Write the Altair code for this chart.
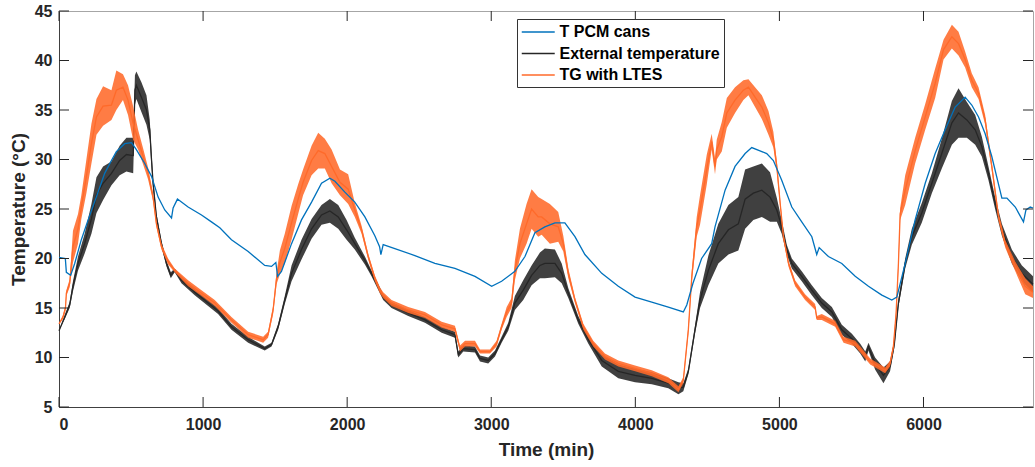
import altair as alt
import pandas as pd

# ---------------- data ----------------
series_names = ["T PCM cans", "External temperature", "TG with LTES"]
series_colors = ["#0072BD", "#262626", "#FF6A2A"]

pcm_time = [0, 44, 51, 81, 109, 155, 202, 259, 317, 364, 398, 456, 503, 537, 595, 642, 688, 734, 781, 792,
            822, 896, 989, 1058, 1116, 1197, 1313, 1428, 1475, 1505, 1517, 1544, 1614, 1683, 1753, 1822, 1880,
            1915, 1984, 2053, 2123, 2192, 2225, 2234, 2250, 2331, 2470, 2609, 2748, 2887, 3003, 3072, 3164,
            3234, 3303, 3372, 3442, 3511, 3581, 3650, 3767, 3882, 3998, 4114, 4229, 4333, 4357, 4400, 4460,
            4530, 4553, 4623, 4692, 4762, 4808, 4878, 4912, 4958, 5016, 5086, 5155, 5225, 5259, 5276, 5340,
            5433, 5526, 5618, 5711, 5780, 5815, 5873, 5942, 6012, 6081, 6150, 6220, 6289, 6335, 6382, 6428,
            6474, 6544, 6579, 6637, 6694, 6711, 6741, 6760]
pcm_temp = [20.1, 20.0, 18.6, 18.3, 19.5, 21.9, 23.9, 26.2, 28.6, 29.9, 30.8, 31.6, 31.7, 31.0, 29.6, 28.3,
            26.2, 24.9, 24.1, 25.1, 26.0, 25.2, 24.4, 23.7, 23.1, 21.9, 20.7, 19.3, 19.2, 19.6, 18.2, 18.7,
            21.5, 23.9, 25.7, 27.6, 28.1, 27.8, 26.7, 25.7, 24.2, 22.3, 21.2, 20.4, 21.4, 21.0, 20.3, 19.5,
            19.0, 18.2, 17.2, 17.7, 18.7, 20.2, 22.6, 23.2, 23.6, 23.6, 22.2, 20.4, 18.5, 17.2, 16.1, 15.6,
            15.1, 14.6, 15.3, 17.5, 20.0, 21.5, 23.2, 26.9, 29.3, 30.6, 31.2, 30.8, 30.6, 29.9, 27.9, 25.2,
            23.7, 22.2, 20.4, 21.1, 20.2, 19.5, 18.2, 17.2, 16.3, 15.8, 16.1, 19.5, 23.9, 27.6, 30.6, 33.0,
            35.3, 36.3, 35.5, 34.3, 32.6, 30.3, 26.1, 26.1, 25.2, 23.7, 24.9, 25.2, 25.1]

ext_time = [0, 40, 74, 97, 132, 178, 225, 260, 306, 364, 421, 468, 515, 527, 537, 572, 607, 630, 642, 653,
            676, 711, 746, 776, 803, 850, 942, 1035, 1104, 1197, 1313, 1428, 1475, 1521, 1567, 1614, 1683,
            1753, 1822, 1880, 1938, 1996, 2053, 2123, 2169, 2210, 2250, 2308, 2424, 2540, 2656, 2748, 2771,
            2806, 2887, 2922, 2979, 3026, 3072, 3118, 3164, 3222, 3280, 3338, 3372, 3442, 3489, 3535, 3604,
            3674, 3767, 3882, 3998, 4114, 4229, 4299, 4333, 4368, 4414, 4449, 4507, 4576, 4646, 4715, 4762,
            4819, 4878, 4935, 4982, 5016, 5051, 5086, 5155, 5225, 5294, 5364, 5433, 5503, 5561, 5596, 5618,
            5664, 5722, 5768, 5798, 5826, 5873, 5919, 5988, 6058, 6127, 6197, 6243, 6301, 6359, 6405, 6451,
            6497, 6544, 6613, 6683, 6760]
ext_temp = [12.7, 14.1, 15.3, 17.2, 19.5, 21.5, 24.0, 26.4, 27.6, 28.6, 29.9, 30.5, 30.4, 37.0, 37.5, 36.3,
            35.0, 33.0, 30.0, 27.6, 24.2, 21.5, 19.5, 18.3, 18.8, 17.8, 16.6, 15.5, 14.7, 13.1, 11.8, 10.9,
            11.3, 13.1, 15.8, 18.5, 20.9, 23.0, 24.4, 24.8, 24.2, 22.9, 21.5, 19.8, 18.5, 17.3, 16.1, 15.3,
            14.5, 13.8, 12.8, 12.3, 10.3, 10.9, 10.8, 9.9, 9.7, 10.4, 11.8, 13.1, 15.5, 16.8, 18.3, 19.3,
            19.5, 19.5, 18.5, 16.5, 13.8, 11.8, 9.7, 8.6, 8.2, 7.9, 7.4, 6.9, 7.0, 8.6, 12.8, 15.8, 18.8,
            21.5, 22.9, 23.5, 26.0, 26.6, 26.9, 26.2, 24.9, 23.2, 20.9, 19.5, 18.2, 16.8, 15.5, 14.6, 12.8,
            11.9, 10.9, 10.1, 11.1, 9.4, 8.2, 9.1, 11.4, 15.5, 19.5, 22.2, 24.6, 27.6, 30.6, 33.7, 34.7,
            34.0, 33.0, 31.3, 28.6, 25.6, 22.9, 20.2, 18.5, 17.4]
ext_noise = [0.0, 0.2, 0.3, 0.5, 0.7, 1.0, 1.5, 1.8, 1.7, 1.2, 1.5, 1.7, 1.8, 1.5, 1.4, 1.5, 1.5, 1.0, 0.8,
             0.5, 0.4, 0.3, 0.3, 0.3, 0.2, 0.3, 0.3, 0.3, 0.3, 0.3, 0.3, 0.2, 0.2, 0.3, 0.4, 0.8, 1.0, 1.0,
             1.0, 1.2, 1.2, 1.0, 0.6, 0.4, 0.3, 0.3, 0.3, 0.3, 0.3, 0.3, 0.3, 0.3, 0.3, 0.3, 0.3, 0.3, 0.3,
             0.3, 0.3, 0.4, 0.7, 1.0, 1.0, 1.3, 1.5, 1.4, 1.0, 0.5, 0.4, 0.4, 0.6, 0.7, 0.7, 0.6, 0.5, 0.6,
             0.4, 0.3, 0.4, 0.8, 1.5, 2.0, 2.5, 2.7, 3.0, 2.7, 2.7, 2.5, 1.2, 0.7, 0.5, 0.5, 0.5, 0.5, 0.5,
             0.5, 0.5, 0.5, 0.5, 0.5, 0.4, 0.6, 0.8, 0.5, 0.4, 0.4, 0.5, 0.8, 1.0, 1.0, 1.5, 2.2, 2.5, 1.8,
             1.5, 1.0, 0.7, 0.6, 0.6, 0.7, 0.8, 0.8]

tg_time = [0, 28, 45, 51, 74, 97, 132, 155, 190, 225, 260, 306, 364, 398, 444, 479, 514, 549, 584, 618, 653,
           676, 711, 757, 803, 896, 989, 1081, 1197, 1313, 1417, 1451, 1486, 1510, 1533, 1567, 1614, 1660,
           1694, 1753, 1799, 1845, 1892, 1950, 2007, 2053, 2100, 2146, 2192, 2227, 2250, 2308, 2424, 2540,
           2656, 2748, 2783, 2818, 2887, 2922, 2991, 3037, 3072, 3107, 3141, 3164, 3199, 3245, 3280, 3326,
           3350, 3407, 3465, 3500, 3535, 3581, 3639, 3708, 3789, 3882, 3998, 4114, 4229, 4299, 4333, 4368,
           4392, 4426, 4449, 4496, 4530, 4553, 4565, 4600, 4635, 4692, 4750, 4785, 4831, 4878, 4924, 4958,
           4982, 5005, 5028, 5063, 5109, 5178, 5248, 5259, 5294, 5387, 5445, 5526, 5561, 5630, 5734, 5768,
           5791, 5810, 5826, 5838, 5873, 5942, 6012, 6081, 6139, 6197, 6243, 6289, 6335, 6382, 6428, 6474,
           6521, 6567, 6637, 6706, 6760]
tg_temp = [13.4, 14.1, 15.0, 16.5, 17.5, 21.2, 23.0, 25.2, 28.3, 31.6, 34.3, 35.4, 35.5, 37.0, 37.3, 36.0,
           33.7, 32.0, 30.3, 28.6, 26.2, 23.5, 21.2, 19.7, 18.8, 17.5, 16.5, 15.5, 13.8, 12.3, 11.8, 12.3,
           14.8, 18.0, 19.6, 21.0, 23.6, 26.0, 27.7, 29.9, 30.9, 30.6, 29.3, 27.7, 27.0, 24.9, 22.9, 20.2,
           18.0, 16.8, 16.3, 15.5, 14.8, 14.3, 13.3, 12.9, 10.9, 11.4, 11.4, 10.6, 10.6, 11.4, 13.1, 14.6,
           15.5, 18.8, 21.5, 23.5, 25.0, 24.2, 24.2, 23.5, 23.2, 21.5, 18.5, 15.8, 13.1, 11.4, 10.1, 9.4,
           8.9, 8.4, 7.7, 6.8, 7.7, 12.8, 18.2, 23.2, 24.9, 29.0, 31.8, 29.3, 31.0, 32.3, 34.7, 36.0, 37.0,
           37.3, 36.3, 35.3, 33.7, 32.0, 29.3, 25.6, 22.2, 19.5, 17.5, 16.1, 15.1, 14.0, 14.1, 13.4, 11.8,
           11.4, 10.8, 9.6, 8.7, 9.4, 11.1, 14.5, 19.5, 24.5, 26.9, 30.9, 34.3, 37.7, 41.1, 42.4, 41.7,
           40.1, 38.0, 36.7, 34.0, 29.3, 24.2, 21.5, 19.2, 17.2, 16.6]
tg_noise = [0.0, 0.2, 0.3, 0.3, 0.4, 1.6, 1.5, 1.2, 1.7, 2.0, 1.8, 2.0, 1.5, 2.0, 1.3, 1.5, 1.7, 1.0, 0.8,
            0.6, 0.4, 0.3, 0.3, 0.3, 0.2, 0.3, 0.3, 0.3, 0.3, 0.3, 0.3, 0.3, 0.4, 0.6, 1.2, 1.5, 1.7, 1.5,
            1.3, 1.5, 1.8, 1.5, 1.7, 1.3, 1.5, 0.7, 0.4, 0.3, 0.3, 0.3, 0.3, 0.3, 0.3, 0.3, 0.3, 0.3, 0.3,
            0.3, 0.3, 0.2, 0.2, 0.3, 0.3, 0.5, 0.5, 1.0, 1.5, 2.0, 2.0, 2.0, 1.8, 2.0, 1.5, 0.8, 0.5, 0.3,
            0.3, 0.3, 0.3, 0.3, 0.3, 0.3, 0.3, 0.3, 0.3, 0.4, 0.6, 1.0, 1.5, 1.5, 0.8, 0.8, 1.0, 1.5, 1.5,
            1.3, 1.0, 0.8, 1.0, 1.2, 1.2, 0.8, 0.5, 0.4, 0.3, 0.3, 0.3, 0.3, 0.3, 0.2, 0.3, 0.3, 0.3, 0.3,
            0.3, 0.3, 0.3, 0.3, 0.3, 0.4, 0.5, 0.6, 1.5, 1.3, 1.3, 1.5, 1.0, 1.2, 1.2, 0.8, 0.7, 0.6, 0.5,
            0.4, 0.4, 0.4, 0.5, 0.8, 0.6]

x_ticks = [0, 1000, 2000, 3000, 4000, 5000, 6000]
y_ticks = [5, 10, 15, 20, 25, 30, 35, 40, 45]


def frame(name, t, v, n=None):
    if n is None:
        n = [0.0] * len(t)
    return pd.DataFrame({
        "t": t, "v": v,
        "lo": [a - b for a, b in zip(v, n)],
        "hi": [a + b for a, b in zip(v, n)],
        "series": name,
    })


df = pd.concat([
    frame(series_names[0], pcm_time, pcm_temp),
    frame(series_names[1], ext_time, ext_temp, ext_noise),
    frame(series_names[2], tg_time, tg_temp, tg_noise),
], ignore_index=True)

W, H = 974, 396
FONT = "Liberation Sans"

xscale = alt.Scale(domain=[0, 6760], nice=False, zero=False)
yscale = alt.Scale(domain=[5, 45], nice=False, zero=False)
cscale = alt.Scale(domain=series_names, range=series_colors)

xaxis = alt.Axis(title="Time (min)", values=x_ticks, format="d", labelPadding=9, titlePadding=8)
yaxis = alt.Axis(title="Temperature (°C)", values=y_ticks, format="d", labelPadding=7, titlePadding=6)

# line-shaped legend symbol: a horizontal stroke wider than its nominal size
legend = alt.Legend(title=None, orient="none", legendX=458, legendY=8,
                    symbolType="M-1,0L3,0", symbolSize=272, symbolStrokeWidth=1.3,
                    symbolFillColor="transparent",
                    labelFontSize=16, labelFontWeight="bold",
                    labelColor="black", labelFont=FONT, fillColor="white", strokeColor="#333333",
                    padding=4, rowPadding=4.5, labelOffset=20.5, labelLimit=400)

X = alt.X("t:Q", scale=xscale, axis=xaxis)


def band(i):
    name = series_names[i]
    return alt.Chart(df).transform_filter(alt.datum.series == name).mark_area(
        opacity=0.88, color=series_colors[i]
    ).encode(
        x=X,
        y=alt.Y("lo:Q", scale=yscale, axis=yaxis),
        y2="hi:Q",
    )


def line(i):
    name = series_names[i]
    return alt.Chart(df).transform_filter(alt.datum.series == name).mark_line(strokeWidth=1.3).encode(
        x=X,
        y=alt.Y("v:Q", scale=yscale, axis=yaxis),
        stroke=alt.Stroke("series:N", scale=cscale, legend=legend),
    )


xt = alt.Chart(pd.DataFrame({"t": x_ticks}))
yt = alt.Chart(pd.DataFrame({"v": y_ticks}))
tick_col = "#262626"
bottom_ticks = xt.mark_rule(color=tick_col).encode(x=X, y=alt.value(H), y2=alt.value(H - 10))
top_ticks = xt.mark_rule(color=tick_col).encode(x=X, y=alt.value(0), y2=alt.value(10))
left_ticks = yt.mark_rule(color=tick_col).encode(y=alt.Y("v:Q", scale=yscale, axis=yaxis),
                                                 x=alt.value(0), x2=alt.value(10))
right_ticks = yt.mark_rule(color=tick_col).encode(y=alt.Y("v:Q", scale=yscale, axis=yaxis),
                                                  x=alt.value(W), x2=alt.value(W - 10))

chart = alt.layer(
    band(1), line(1),
    band(2), line(2),
    line(0),
    bottom_ticks, top_ticks, left_ticks, right_ticks,
).properties(
    width=W, height=H,
    autosize=alt.AutoSizeParams(type="none"),
    padding={"left": 59, "top": 11, "right": 2, "bottom": 60},
).configure_axis(
    labelFont=FONT, labelFontSize=16, labelFontWeight="bold", labelColor="#262626",
    titleFont=FONT, titleFontSize=19, titleFontWeight="bold", titleColor="#262626",
    domainColor="#404040", domainWidth=1, ticks=False, grid=False,
).configure_view(stroke="#a6a6a6", strokeWidth=1)

chart.save("out.html", embed_options={"renderer": "svg", "actions": False})
